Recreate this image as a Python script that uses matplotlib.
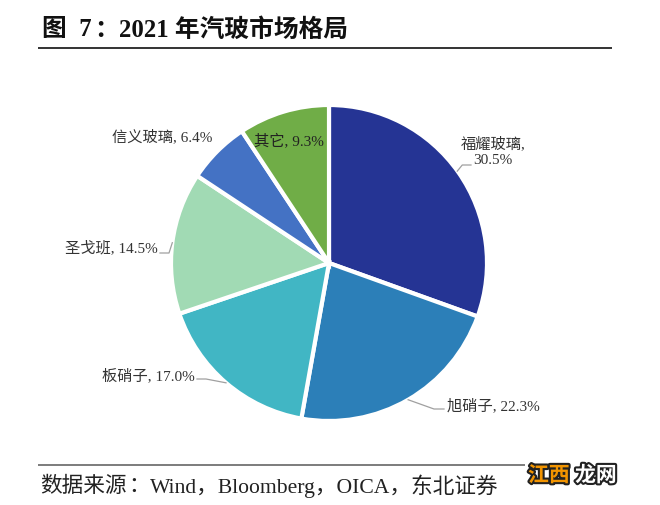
import numpy as np
import matplotlib
matplotlib.use("Agg")
import matplotlib.pyplot as plt
import matplotlib.patheffects as pe

# ---- data ----
companies = ["福耀玻璃", "旭硝子", "板硝子", "圣戈班", "信义玻璃", "其它"]
shares = [30.5, 22.3, 17.0, 14.5, 6.4, 9.3]
colors = ["#253494", "#2c7fb8", "#41b6c4", "#a1dab4", "#4472c4", "#70ad47"]
title_parts = ["图  7", "：", "2021 年汽玻市场格局"]
source_parts = ["数据来源", "：", "Wind，Bloomberg，OICA，东北证券"]

W, H = 660, 505
fig = plt.figure(figsize=(W / 100, H / 100), dpi=100)
ax = fig.add_axes([0, 0, 1, 1])

def Y(y):  # pixel from top -> data
    return H - y

cx, cy, r = 329, 263, 158
wedges, _ = ax.pie(shares, colors=colors, startangle=90, counterclock=False,
                   center=(cx, Y(cy)), radius=r, frame=True,
                   wedgeprops=dict(edgecolor="white", linewidth=3))
ax.set_xlim(0, W)
ax.set_ylim(0, H)
ax.axis("off")
ax.set_aspect("equal")

SERIF = ["Liberation Serif", "Noto Sans CJK SC"]
CJK = ["Noto Sans CJK SC", "Liberation Serif"]
lab_kw = dict(fontsize=11, color="#333333", family=SERIF, va="center")

def edge_pt(w, frac=1.0):
    t = np.deg2rad((w.theta1 + w.theta2) / 2)
    return cx + r * frac * np.cos(t), Y(cy) + r * frac * np.sin(t)

lc = dict(color="#a0a0a0", lw=0.9)

# 福耀玻璃
ax.text(493, Y(152), f"{companies[0]},\n{shares[0]:.1f}%", ha="center",
        multialignment="center", linespacing=1.25, **lab_kw)
ex, ey = edge_pt(wedges[0])
ax.plot([ex - 1, ex + 4, 471], [ey + 1, Y(165), Y(165)], **lc)

# 旭硝子
ax.text(447, Y(406), f"{companies[1]}, {shares[1]:.1f}%", ha="left", **lab_kw)
ex, ey = edge_pt(wedges[1])
ax.plot([ex, 434, 444], [ey, Y(409), Y(409)], **lc)

# 板硝子
ax.text(195, Y(376), f"{companies[2]}, {shares[2]:.1f}%", ha="right", **lab_kw)
ex, ey = edge_pt(wedges[2])
ax.plot([197, 206, ex], [Y(379), Y(379), ey], **lc)

# 圣戈班
ax.text(158, Y(248), f"{companies[3]}, {shares[3]:.1f}%", ha="right", **lab_kw)
ex, ey = edge_pt(wedges[3])
ax.plot([160, 169, ex], [Y(253), Y(253), ey], **lc)

# 信义玻璃
ax.text(212, Y(137), f"{companies[4]}, {shares[4]:.1f}%", ha="right", **lab_kw)

# 其它 (inside)
ax.text(289, Y(141), f"{companies[5]}, {shares[5]:.1f}%", ha="center",
        fontsize=11, color="#222222", family=SERIF, va="center")

renderer = fig.canvas.get_renderer()

def draw_runs(x, y, parts, fams, fontsize, **kw):
    em = fontsize * 100 / 72
    for s, fam in zip(parts, fams):
        t = ax.text(x, y, s, ha="left", va="center", family=fam,
                    fontsize=fontsize, **kw)
        if s == "：":
            x += em
        else:
            bb = t.get_window_extent(renderer=renderer)
            x += bb.width + 0.1 * em

# title & rules
draw_runs(42, Y(30), title_parts, [SERIF, CJK, SERIF], 17.8,
          fontweight="bold", color="#111111")
ax.plot([38, 612], [Y(48), Y(48)], color="#333333", lw=1.4,
        solid_capstyle="butt")
ax.plot([38, 525], [Y(465), Y(465)], color="#666666", lw=1.2,
        solid_capstyle="butt")
draw_runs(40, Y(486), source_parts, [CJK, CJK, SERIF], 15.6,
          color="#222222")

# watermark
ax.text(528, Y(475), "江西", ha="left", va="center", fontsize=15,
        fontweight="bold", family=["Noto Sans CJK SC"], color="#f29400",
        path_effects=[pe.withStroke(linewidth=3, foreground="#222222")])
ax.text(575, Y(475), "龙网", ha="left", va="center", fontsize=15,
        fontweight="bold", family=["Noto Sans CJK SC"], color="white",
        path_effects=[pe.withStroke(linewidth=3, foreground="#222222")])

fig.savefig("out.png", dpi=100, facecolor="white")
